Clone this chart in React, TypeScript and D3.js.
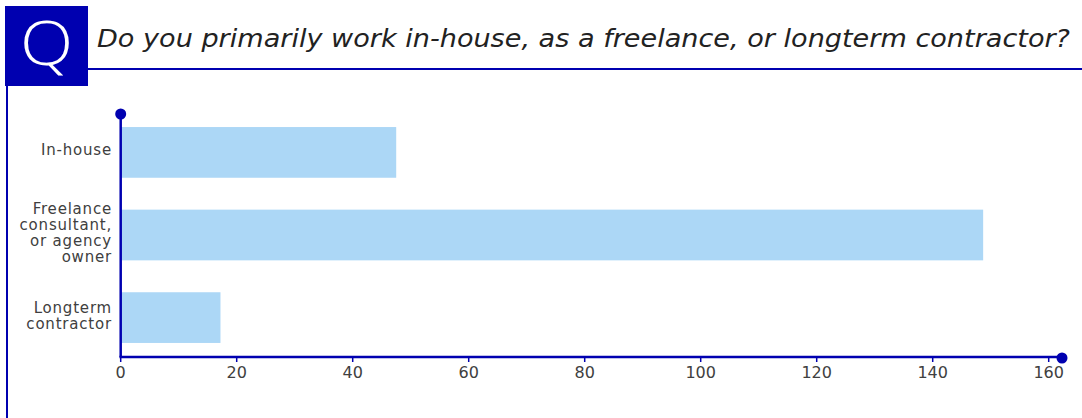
import React from "react";
import * as d3 from "d3";

const categories: string[] = ["In-house", "Freelance consultant, or agency owner", "Longterm contractor"];
const labelLines: string[][] = [
  ["In-house"],
  ["Freelance", "consultant,", "or agency", "owner"],
  ["Longterm", "contractor"],
];
const values: number[] = [47.5, 148.7, 17.2];
const xTicks: number[] = [0, 20, 40, 60, 80, 100, 120, 140, 160];
const title = "Do you primarily work in-house, as a freelance, or longterm contractor?";

const W = 1082;
const H = 418;
const NAVY = "#0000b0";
const BAR = "#acd7f6";
const TEXT = "#404040";
const FONT = "'DejaVu Sans', 'Open Sans', sans-serif";

export default function App() {
  const x = d3.scaleLinear().domain([0, 160]).range([120.7, 1048.7]);
  const y = d3
    .scaleBand<string>()
    .domain(categories)
    .range([113, 357])
    .paddingInner(0.386)
    .paddingOuter(0.17);
  const axisX = x(0);
  const axisY = 357;
  const lineH = 16;

  return (
    <svg
      width={W}
      height={H}
      style={{ position: "absolute", left: 0, top: 0, background: "#fff" }}
    >
      {/* header */}
      <rect x={5} y={6} width={83} height={80} fill={NAVY} />
      <text
        transform="translate(46.5,65) scale(1.22,1.05)"
        textAnchor="middle"
        fill="#fff"
        fontFamily="'Open Sans', sans-serif"
        fontWeight={300}
        fontSize={57}
      >
        Q
      </text>
      <line x1={88} x2={W} y1={69} y2={69} stroke={NAVY} strokeWidth={2} />
      <line x1={7} x2={7} y1={86} y2={H} stroke={NAVY} strokeWidth={2} />
      <text
        x={97}
        y={47}
        fill="#222"
        fontFamily={FONT}
        fontStyle="italic"
        fontSize={25}
        textLength={973}
        lengthAdjust="spacingAndGlyphs"
      >
        {title}
      </text>

      {/* bars */}
      {categories.map((c, i) => (
        <rect
          key={c}
          x={axisX}
          y={y(c)!}
          width={x(values[i]) - axisX}
          height={y.bandwidth()}
          fill={BAR}
        />
      ))}

      {/* y labels */}
      {categories.map((c, i) => {
        const lines = labelLines[i];
        const cy = y(c)! + y.bandwidth() / 2;
        const first = cy - ((lines.length - 1) * lineH) / 2 + 3;
        return (
          <text
            key={c}
            textAnchor="end"
            fill={TEXT}
            fontFamily={FONT}
            fontSize={15}
            letterSpacing={0.8}
          >
            {lines.map((l, j) => (
              <tspan key={j} x={112} y={first + j * lineH}>
                {l}
              </tspan>
            ))}
          </text>
        );
      })}

      {/* axes */}
      <line x1={axisX} x2={axisX} y1={114} y2={axisY} stroke={NAVY} strokeWidth={2.5} />
      <circle cx={axisX} cy={114} r={5.5} fill={NAVY} />
      <line x1={axisX - 1.25} x2={1062} y1={axisY} y2={axisY} stroke={NAVY} strokeWidth={2.5} />
      <circle cx={1062} cy={axisY + 1} r={5.5} fill={NAVY} />
      {xTicks.map((t) => (
        <g key={t} transform={`translate(${x(t)},${axisY})`}>
          <line y1={0} y2={5} stroke={NAVY} strokeWidth={1.5} />
          <text
            y={21}
            textAnchor="middle"
            fill={TEXT}
            fontFamily={FONT}
            fontSize={16}
          >
            {t}
          </text>
        </g>
      ))}
    </svg>
  );
}
